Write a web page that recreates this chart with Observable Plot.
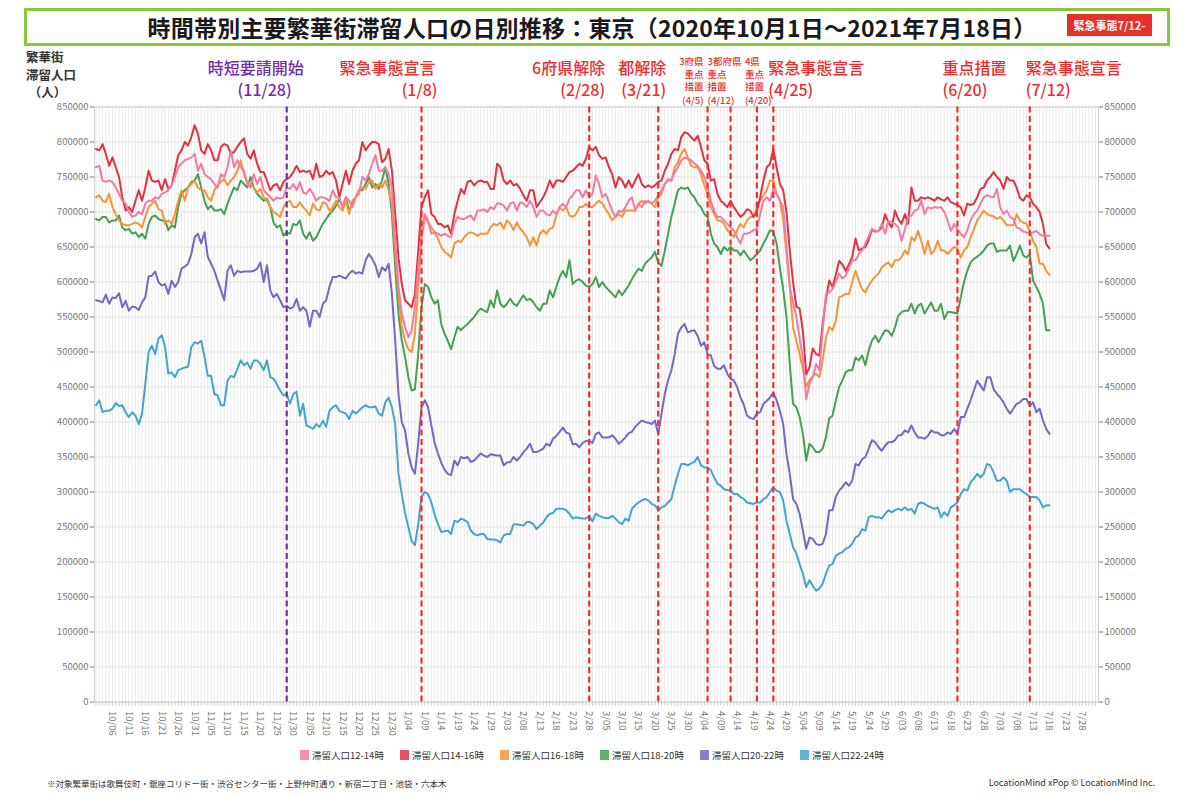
<!DOCTYPE html>
<html><head><meta charset="utf-8">
<script src="https://cdn.jsdelivr.net/npm/d3@7"></script>
<script src="https://cdn.jsdelivr.net/npm/@observablehq/plot@0.6"></script>
<style>
html,body{margin:0;padding:0;background:#fff}
body{width:1200px;height:797px;position:relative;overflow:hidden;font-family:"Noto Sans CJK JP","Noto Sans",sans-serif}
#chart{position:absolute;left:0;top:0}
#titlebox{position:absolute;left:24px;top:8px;width:1140px;height:32px;border:3px solid #8cc63f}
#title{position:absolute;left:592px;top:27px;transform:translate(-50%,-50%);font-size:23px;font-weight:700;color:#1a1a1a;white-space:nowrap;letter-spacing:0.2px}
#badge{position:absolute;left:1067px;top:14px;width:85px;height:22px;background:#e8302a;color:#fff;font-size:11px;font-weight:700;line-height:22px;text-align:center}
#ytitle{position:absolute;left:26px;top:48px;font-size:12.5px;font-weight:700;color:#333;line-height:17.5px}
#legend{position:absolute;left:300px;top:748px;display:flex}
.li{width:100px;display:flex;align-items:center;font-size:9.5px;color:#333;white-space:nowrap}
.sw{width:9px;height:10px;margin-right:3px;opacity:0.85}
#fnl{position:absolute;left:47px;top:777px;font-size:8.5px;color:#333;white-space:nowrap}
#fnr{position:absolute;right:45px;top:776px;font-size:9px;color:#333;white-space:nowrap}
</style></head>
<body>
<div id="titlebox"></div>
<div id="title">時間帯別主要繁華街滞留人口の日別推移：東京（2020年10月1日～2021年7月18日）</div>
<div id="badge">緊急事態7/12-</div>
<div id="ytitle">繁華街<br>滞留人口<br>&nbsp;（人）</div>
<div id="chart"></div>
<div id="legend"></div>
<div id="fnl">※対象繁華街は歌舞伎町・銀座コリドー街・渋谷センター街・上野仲町通り・新宿二丁目・池袋・六本木</div>
<div id="fnr">LocationMind xPop © LocationMind Inc.</div>
<script>
// ---------- data (daily values from 2020-10-01, in thousands of people) ----------
const startDate = "2020-10-01";
const seriesNames = ["滞留人口12-14時","滞留人口14-16時","滞留人口16-18時","滞留人口18-20時","滞留人口20-22時","滞留人口22-24時"];
const seriesColors = ["#f27ba4","#e0323f","#f5953a","#45a152","#7567c6","#42a6c9"];

const p12_14 = [764,766,745,743,745,743,735,726,716,712,
700,693,695,700,697,712,716,716,721,719,
726,728,731,738,750,764,769,774,776,778,
783,759,769,754,750,747,740,735,754,750,
764,788,764,774,764,759,740,735,754,740,
750,731,726,721,716,721,719,721,735,733,
740,731,743,728,726,733,726,716,721,721,
719,716,731,721,721,707,721,716,707,721,
726,750,745,754,769,781,759,759,764,754,
735,659,593,555,536,521,531,564,621,669,
697,688,669,671,669,666,669,666,664,683,
693,690,690,693,695,688,702,702,704,700,
707,704,712,712,709,702,712,714,702,714,
712,707,716,707,693,702,702,697,695,702,
697,707,712,707,719,724,731,731,721,731,
721,726,752,740,721,726,714,702,693,702,
700,707,716,721,702,712,707,716,714,712,
716,724,731,740,747,745,757,764,774,778,
776,774,769,766,759,750,735,716,702,693,
693,688,683,678,674,664,655,669,669,671,
674,676,697,716,721,716,733,726,716,707,
650,593,570,550,520,490,432,455,464,483,
474,530,583,585,590,600,612,605,609,620,
631,631,640,645,655,665,676,673,673,683,
669,688,685,683,678,659,675,693,695,702,
704,716,697,707,705,707,706,707,700,688,
673,683,675,669,664,674,688,697,702,712,
721,724,722,721,733,707,697,702,693,690,
678,676,672,671,669,671,673,668,666,666,666];

const p14_16 = [790,788,797,783,766,778,764,750,721,702,
707,700,716,731,716,735,759,745,743,745,
731,747,733,738,759,781,788,800,795,807,
824,812,788,783,797,788,774,774,793,797,
795,783,786,793,800,805,783,776,788,769,
757,757,745,731,738,740,731,743,747,750,
757,766,757,759,757,759,747,769,750,752,
759,754,757,745,721,740,759,740,759,769,
774,800,788,795,800,800,797,771,776,790,
759,697,635,597,574,569,564,583,645,707,
721,731,697,693,683,683,678,681,669,697,
716,733,726,743,745,738,743,745,743,743,
733,733,769,764,745,740,745,738,740,733,
724,716,731,731,707,714,721,731,745,735,
745,745,743,750,757,759,764,769,766,776,
793,788,793,781,776,778,764,754,735,750,
745,735,745,735,745,754,740,735,738,735,
738,743,745,759,769,783,790,788,807,814,
812,807,802,809,793,774,769,745,747,726,
716,712,707,716,707,700,693,697,704,702,
693,700,721,745,764,769,790,764,740,731,
700,645,600,565,562,530,468,478,505,497,
495,540,575,602,593,610,630,625,616,625,
636,662,645,648,650,660,675,672,673,678,
697,685,678,702,690,683,697,683,735,716,
716,721,719,721,719,716,721,718,716,721,
714,712,710,707,695,712,710,712,721,733,
735,745,750,757,750,745,733,750,745,745,
735,720,716,724,721,712,707,700,683,654,648];

const p16_18 = [721,724,716,714,726,707,697,688,683,681,
681,683,685,683,678,693,707,712,716,704,
702,683,688,683,697,716,731,716,735,740,
745,735,731,731,721,716,731,738,743,747,
738,745,750,759,774,754,743,740,735,728,
733,721,716,707,700,697,693,707,714,716,
707,707,714,707,702,695,712,704,702,714,
712,702,707,716,707,702,716,697,716,721,
731,735,733,743,745,733,740,735,745,731,
712,645,583,536,516,504,500,526,593,659,
693,685,678,671,662,650,643,640,635,655,
659,657,664,669,671,669,666,669,669,669,
678,683,681,685,676,688,683,674,685,676,
671,664,652,664,652,669,674,669,676,678,
695,707,702,707,695,693,697,707,707,712,
707,707,712,716,712,704,697,688,693,697,
693,702,702,702,702,712,716,712,716,712,
707,721,726,740,745,745,764,771,783,790,
778,766,764,764,754,738,726,707,697,688,
688,683,674,669,664,674,683,678,688,693,
693,707,716,724,731,745,745,726,716,690,
640,595,535,516,497,475,450,460,466,469,
464,488,520,536,531,545,578,580,583,583,
600,616,602,590,585,595,602,608,612,621,
625,628,621,631,631,635,645,640,664,659,
673,659,640,659,640,645,659,645,645,640,
645,650,648,635,645,650,664,675,688,695,
702,697,695,694,690,693,688,681,681,681,
697,688,685,683,672,659,650,626,626,616,610];

const p18_20 = [690,688,693,693,685,688,688,695,678,674,
676,669,671,664,669,662,683,693,695,690,
688,688,674,681,678,707,726,731,735,743,
745,754,735,716,704,709,702,702,704,697,
712,724,735,731,745,740,735,750,735,726,
721,716,719,707,685,678,681,666,671,669,
683,681,688,669,662,671,659,664,674,683,
690,697,702,709,719,707,721,702,712,721,
731,731,740,750,735,740,733,745,764,740,
697,621,555,516,493,464,445,447,497,564,
597,593,578,569,574,540,526,516,504,521,
536,531,536,540,545,550,557,562,559,557,
574,564,588,569,564,569,576,569,566,574,
581,574,576,571,564,559,569,569,588,578,
593,607,616,607,631,597,602,604,600,595,
593,597,607,593,600,593,588,583,578,588,
581,588,595,604,612,619,616,626,631,635,
643,628,623,645,669,693,712,731,735,733,
735,726,721,712,707,697,693,669,655,650,
640,650,645,650,645,645,638,645,638,631,
635,640,645,655,664,674,672,655,620,590,
550,483,426,421,407,383,345,369,364,357,
357,362,378,405,409,430,450,459,471,474,
474,492,488,495,481,502,516,523,514,523,
531,530,523,535,552,557,559,559,569,555,
566,569,555,563,571,559,559,569,547,557,
557,556,555,578,600,616,628,633,636,640,
645,652,655,655,643,645,645,645,652,630,
640,652,638,635,640,602,593,583,569,531,531];

const p20_22 = [574,573,571,582,569,578,577,584,564,573,
559,565,564,560,571,578,608,609,615,600,
595,597,583,602,593,600,619,622,626,640,
664,669,655,671,636,626,616,602,588,574,
616,624,609,616,614,615,615,615,616,619,
628,600,624,588,578,583,574,564,566,562,
564,576,559,564,559,536,559,559,550,569,
574,593,607,607,609,607,605,612,616,612,
614,612,631,640,633,624,607,621,616,626,
583,516,440,400,388,355,335,326,370,421,
431,421,395,370,355,342,332,326,324,345,
338,350,348,350,343,345,350,355,352,350,
354,353,352,352,338,342,343,350,345,350,
357,362,369,357,357,359,362,369,366,376,
380,386,392,385,383,368,369,364,370,373,
373,370,383,385,378,378,378,381,376,369,
373,378,384,386,393,398,402,400,399,397,
402,383,412,440,460,474,497,526,535,540,
528,530,531,523,509,514,497,495,480,476,
476,481,469,462,459,450,435,425,409,406,
404,412,414,426,430,435,442,431,416,397,
354,326,290,283,269,245,219,235,233,226,
224,226,240,274,274,293,302,307,314,309,
316,340,338,347,350,362,374,371,364,359,
366,371,371,374,381,381,388,385,395,385,
378,378,376,380,388,385,385,381,381,385,
383,390,383,407,407,419,431,445,459,452,
445,464,464,447,440,435,428,419,412,419,
426,428,433,433,423,428,414,419,402,390,383];

const p22_24 = [424,431,414,416,416,419,427,423,424,414,
407,414,409,397,412,454,500,509,497,519,
524,507,469,471,464,474,476,478,479,507,
514,512,516,493,466,466,440,438,424,424,
459,466,464,476,488,481,485,476,488,488,
483,474,488,464,462,454,445,438,440,426,
440,443,409,426,395,393,390,397,393,402,
393,416,421,424,416,414,412,404,416,412,
416,421,424,421,421,422,412,409,428,435,
421,397,326,297,270,250,230,224,254,293,
300,297,285,268,254,243,244,245,240,259,
257,262,260,257,245,240,238,240,240,233,
232,232,231,228,238,240,240,254,254,253,
252,257,257,254,247,252,256,264,269,270,
276,276,276,274,269,262,264,263,262,262,
266,258,269,266,264,263,263,266,262,257,
254,262,259,276,281,285,288,290,288,283,
281,274,278,280,285,290,309,326,340,340,
338,341,343,350,338,335,335,331,321,312,
309,304,303,302,297,297,293,290,285,284,
283,285,285,290,293,300,307,302,300,288,
259,240,221,212,197,183,164,174,166,159,
162,169,183,195,197,209,212,214,219,221,
226,235,238,247,245,264,266,264,264,262,
269,274,271,274,276,274,278,274,276,269,
283,285,283,280,278,276,278,264,271,266,
278,281,285,297,304,302,314,319,326,321,
326,340,338,328,316,316,321,316,300,304,
304,304,300,297,293,293,293,288,278,281,281];

const tickLabels = ["10/06","10/11","10/16","10/21","10/26","10/31","11/05","11/10","11/15","11/20","11/25","11/30",
"12/05","12/10","12/15","12/20","12/25","12/30","1/04","1/09","1/14","1/19","1/24","1/29","2/03","2/08","2/13","2/18","2/23","2/28",
"3/05","3/10","3/15","3/20","3/25","3/30","4/04","4/09","4/14","4/19","4/24","4/29","5/04","5/09","5/14","5/19","5/24","5/29",
"6/03","6/08","6/13","6/18","6/23","6/28","7/03","7/08","7/13","7/18","7/23","7/28"];
const yTicks = [0,50000,100000,150000,200000,250000,300000,350000,400000,450000,500000,550000,600000,650000,700000,750000,800000,850000];

const eventDates = ["2020-11-28","2021-01-08","2021-02-28","2021-03-21","2021-04-05","2021-04-12","2021-04-20","2021-04-25","2021-06-20","2021-07-12"];
const eventTypes = ["時短","宣言","解除","解除","重点","重点","重点","宣言","重点","宣言"];
const bigDates = ["2020-11-28","2021-01-08","2021-02-28","2021-03-21","2021-04-25","2021-06-20","2021-07-12"];
const bigTitles = ["時短要請開始","緊急事態宣言","6府県解除","都解除","緊急事態宣言","重点措置","緊急事態宣言"];
const bigSubs = ["(11/28)","(1/8)","(2/28)","(3/21)","(4/25)","(6/20)","(7/12)"];
const smallDates = ["2021-04-05","2021-04-12","2021-04-20"];
const smallLines = [["3府県","重点","措置","(4/5)"],["3都府県","重点","措置","(4/12)"],["4県","重点","措置","(4/20)"]];

// ---------- layout / style ----------
const RED = "#f22c2c", PURPLE = "#6f2fa6";
const bigLayout = [
  {anchor:"end", dx1:17, dx2:5},
  {anchor:"end", dx1:14, dx2:16},
  {anchor:"end", dx1:16, dx2:16},
  {anchor:"end", dx1:8, dx2:8},
  {anchor:"start", dx1:-5, dx2:-5},
  {anchor:"start", dx1:-15, dx2:-15},
  {anchor:"start", dx1:-4, dx2:-4}
];
const smallLayout = [{anchor:"end", dx:-4},{anchor:"start", dx:-23},{anchor:"start", dx:-12}];
const smallDy = [-45, -32.5, -20, -6];

const dayOf = s => (Date.parse(s + "T00:00:00Z") - Date.parse(startDate + "T00:00:00Z")) / 864e5;

const allSeries = [p12_14, p14_16, p16_18, p18_20, p20_22, p22_24];
const drawOrder = [5, 4, 3, 2, 1, 0];
const rows = [];
for (const k of drawOrder) allSeries[k].forEach((v, i) => rows.push({d: i, v: v * 1000, s: seriesNames[k]}));

const font = '"Noto Sans CJK JP","Noto Sans",sans-serif';
const marks = [
  Plot.ruleX(d3.range(0, 305), {stroke: "#ebebeb", strokeWidth: 1}),
  Plot.ruleY(yTicks, {stroke: "#e3e3e3", strokeWidth: 1}),
  Plot.frame({stroke: "#cfcfcf"}),
  Plot.axisY(yTicks, {anchor: "left", tickFormat: d => String(d), tickSize: 4, tickPadding: 2, fontSize: 9.5, color: "#777", label: null}),
  Plot.axisY(yTicks, {anchor: "right", tickFormat: d => String(d), tickSize: 4, tickPadding: 2, fontSize: 9.5, color: "#777", label: null}),
  Plot.axisX(d3.range(0, 305), {anchor: "bottom", tickSize: 4, tickFormat: () => "", color: "#c8c8c8", label: null}),
  Plot.axisX(d3.range(5, 301, 5), {anchor: "bottom", tickSize: 0, tickPadding: 9, tickRotate: 90, fontSize: 9.5, color: "#777",
    tickFormat: d => tickLabels[Math.round(d / 5) - 1], label: null}),
  Plot.line(rows, {x: "d", y: "v", z: "s", stroke: "s", strokeWidth: 2, curve: "linear"}),
  Plot.ruleX(eventDates, {x: d => dayOf(d), stroke: (d, i) => eventTypes[i] === "時短" ? PURPLE : RED,
    strokeWidth: 2.2, strokeDasharray: "6,3.5"})
];
bigDates.forEach((dt, i) => {
  const L = bigLayout[i];
  const col = i === 0 ? PURPLE : RED;
  marks.push(Plot.text([dt], {x: d => dayOf(d), text: () => bigTitles[i], frameAnchor: "top", dy: -38, dx: L.dx1,
    textAnchor: L.anchor, lineAnchor: "middle", fill: col, fontSize: 16, fontWeight: 500}));
  marks.push(Plot.text([dt], {x: d => dayOf(d), text: () => bigSubs[i], frameAnchor: "top", dy: -16, dx: L.dx2,
    textAnchor: L.anchor, lineAnchor: "middle", fill: col, fontSize: 16, fontWeight: 500}));
});
smallDates.forEach((dt, i) => {
  smallLines[i].forEach((t, j) => {
    marks.push(Plot.text([dt], {x: d => dayOf(d), text: () => t, frameAnchor: "top", dy: smallDy[j], dx: smallLayout[i].dx,
      textAnchor: smallLayout[i].anchor, lineAnchor: "middle", fill: RED, fontSize: 9.5, fontWeight: 500}));
  });
});

const chart = Plot.plot({
  width: 1200, height: 745,
  marginLeft: 94, marginRight: 102, marginTop: 106.5, marginBottom: 43.5,
  x: {domain: [-0.456, 304.9], axis: null, label: null},
  y: {domain: [0, 850000], axis: null, label: null},
  color: {domain: seriesNames, range: seriesColors},
  style: {fontFamily: font, background: "transparent", overflow: "visible"},
  marks
});
document.getElementById("chart").appendChild(chart);

const lg = document.getElementById("legend");
seriesNames.forEach((n, i) => {
  const it = document.createElement("div"); it.className = "li";
  const sw = document.createElement("div"); sw.className = "sw"; sw.style.background = seriesColors[i];
  const tx = document.createElement("span"); tx.textContent = n;
  it.appendChild(sw); it.appendChild(tx); lg.appendChild(it);
});
</script>
</body></html>
